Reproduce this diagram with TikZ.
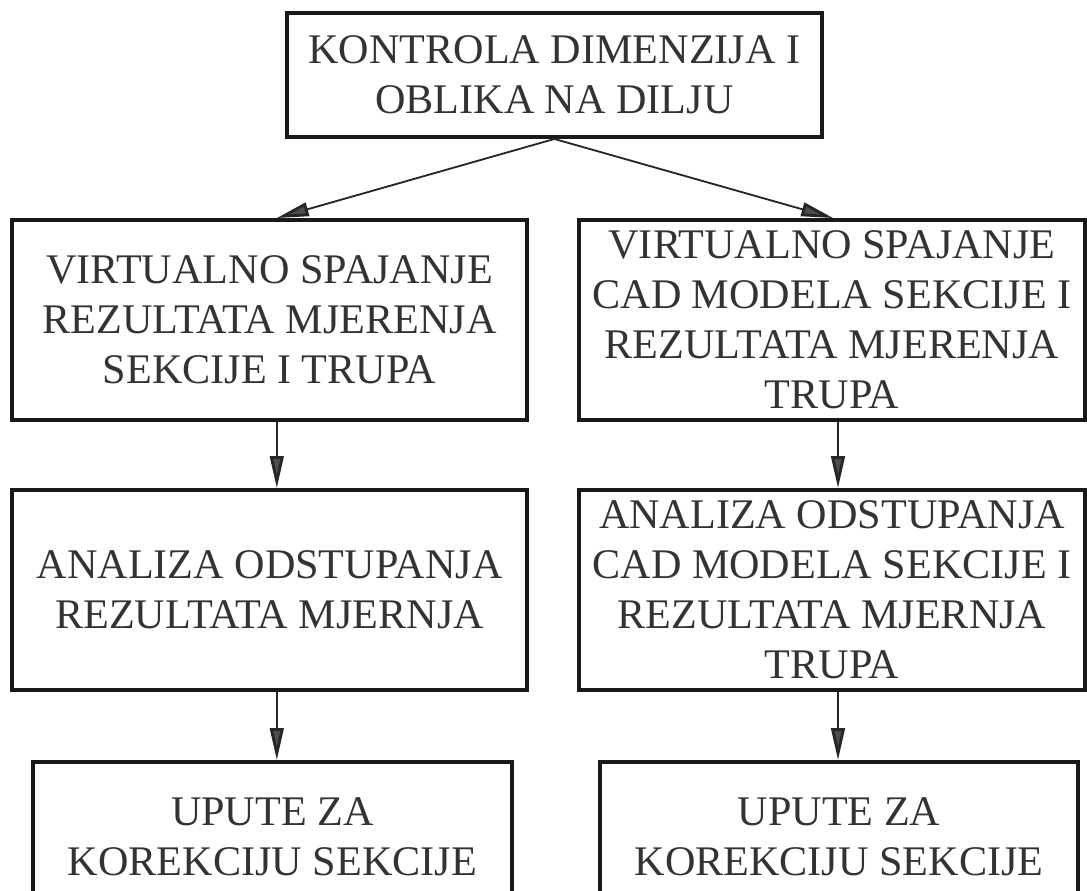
\documentclass[tikz,border=0pt]{standalone}
\usepackage{fontspec}
\setmainfont{Liberation Serif}
\usepackage{tikz}
\usetikzlibrary{positioning}
\usetikzlibrary{arrows.meta}
\usetikzlibrary{calc}

\tikzset{
  korak/.style={draw=black!90, line width=2.8pt, inner sep=0pt, align=center,
    text=black!80, font=\fontsize{30}{35.5}\selectfont},
  strelica/.style={line width=1.3pt, draw=black!85,
    -{Triangle[open, fill=black!70, length=0.8cm, width=0.34cm, line width=2pt]}}
}

\begin{document}
\begin{tikzpicture}
    \useasboundingbox (0,0) rectangle (27.175,-22.25);
    \clip (0,0) rectangle (27.175,-22.25);

    % vrh
    \node[korak, minimum width=13.375cm, minimum height=3.1cm] (kontrola) at (13.86,-1.875)
        {KONTROLA DIMENZIJA I\\OBLIKA NA DILJU};

    % lijevi stupac
    \node[korak, minimum width=12.875cm, minimum height=5cm] (spajanjeL) at (6.74,-8)
        {VIRTUALNO SPAJANJE\\REZULTATA MJERENJA\\SEKCIJE I TRUPA};
    \node[korak, minimum width=12.875cm, minimum height=5cm] (analizaL) at (6.74,-14.75)
        {ANALIZA ODSTUPANJA\\REZULTATA MJERNJA};
    \node[korak, minimum width=11.975cm, minimum height=3.75cm] (uputeL) at (6.81,-20.925)
        {UPUTE ZA\\KOREKCIJU SEKCIJE};

    % desni stupac
    \node[korak, minimum width=12.65cm, minimum height=5cm] (spajanjeD) at (20.8,-8)
        {VIRTUALNO SPAJANJE\\CAD MODELA SEKCIJE I\\REZULTATA MJERENJA\\TRUPA};
    \node[korak, minimum width=12.65cm, minimum height=5cm] (analizaD) at (20.8,-14.75)
        {ANALIZA ODSTUPANJA\\CAD MODELA SEKCIJE I\\REZULTATA MJERNJA\\TRUPA};
    \node[korak, minimum width=11.95cm, minimum height=3.75cm] (uputeD) at (20.975,-20.925)
        {UPUTE ZA\\KOREKCIJU SEKCIJE};

    % pomocne tocke za okomite strelice
    \coordinate (sL1) at ($(spajanjeL.south)+(0.18,0)$);
    \coordinate (aL1) at ($(analizaL.north)+(0.18,0)$);
    \coordinate (sD1) at ($(spajanjeD.south)+(0.15,0)$);
    \coordinate (aD1) at ($(analizaD.north)+(0.15,0)$);
    \coordinate (aL2) at ($(analizaL.south)+(0.18,0)$);
    \coordinate (uL) at (aL2 |- uputeL.north);
    \coordinate (aD2) at ($(analizaD.south)+(0.15,0)$);
    \coordinate (uD) at (aD2 |- uputeD.north);

    \draw[strelica] (kontrola.south) -- ($(spajanjeL.north)+(0.18,0)$);
    \draw[strelica] (kontrola.south) -- ($(spajanjeD.north)+(0.03,0)$);
    \draw[strelica] (sL1) -- (aL1);
    \draw[strelica] (sD1) -- (aD1);
    \draw[strelica] (aL2) -- (uL);
    \draw[strelica] (aD2) -- (uD);
\end{tikzpicture}
\end{document}
